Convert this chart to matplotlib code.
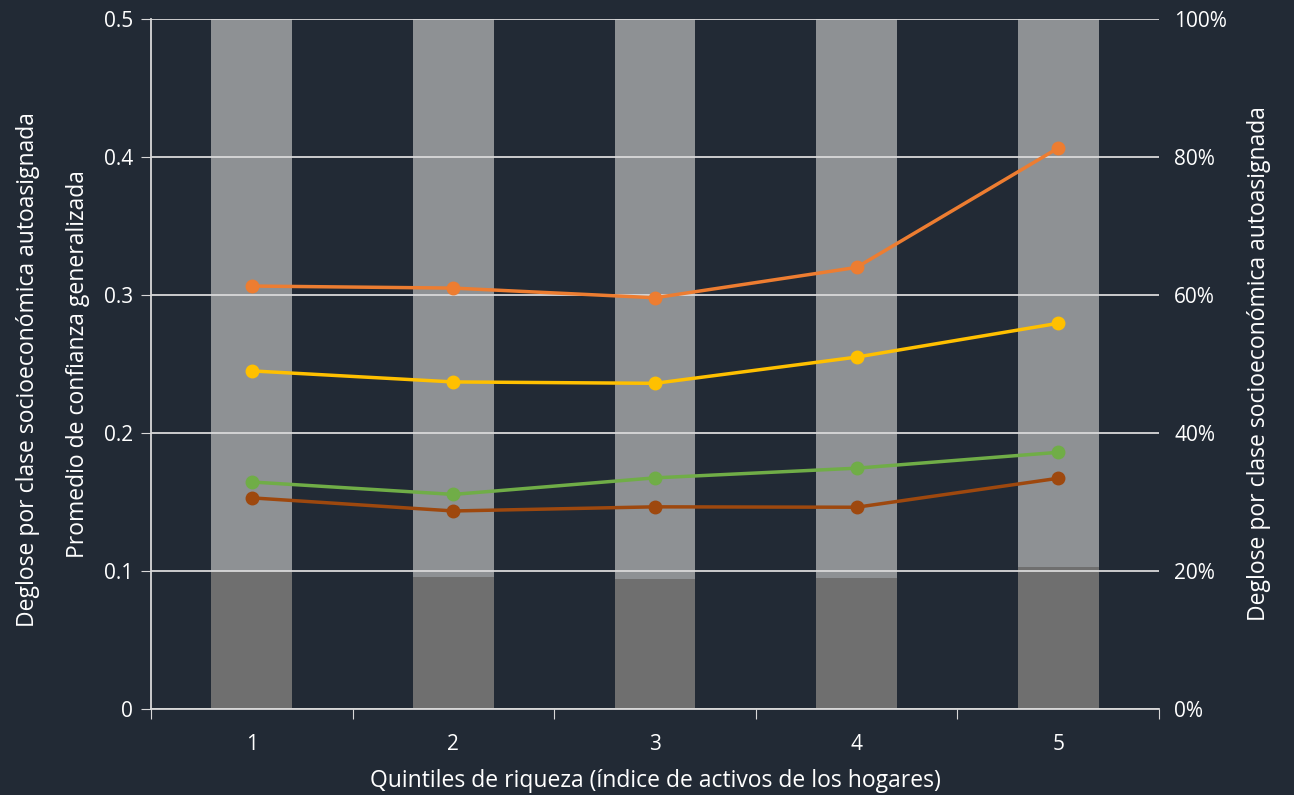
import numpy as np
import matplotlib.pyplot as plt
from matplotlib.ticker import PercentFormatter

plt.rcParams['font.family'] = ['Open Sans', 'DejaVu Sans']

quintiles = [1, 2, 3, 4, 5]

# bar shares (fraction of households), bottom part and the rest up to 100%
share_low = [0.200, 0.192, 0.188, 0.190, 0.206]
share_rest = [1 - v for v in share_low]

# average generalized trust by class
trust_orange = [0.3065, 0.305, 0.298, 0.320, 0.4065]
trust_yellow = [0.245, 0.237, 0.236, 0.255, 0.2795]
trust_green = [0.1645, 0.1555, 0.1675, 0.1745, 0.186]
trust_brown = [0.153, 0.1435, 0.1465, 0.1462, 0.1672]

bg = '#222a35'
fg = '#ffffff'
axis_col = '#d9d9d9'
tick_fs = 15
label_fs = 16.5

fig = plt.figure(figsize=(12.94, 7.95), dpi=100, facecolor=bg)
ax = fig.add_axes([151 / 1294, 1 - 709 / 795, (1159 - 151) / 1294, (709 - 19) / 795])
ax2 = ax.twinx()

# bars live on the right axis, drawn below the lines and grid
ax.set_zorder(ax2.get_zorder() + 1)
ax.patch.set_visible(False)
ax2.set_facecolor(bg)

x = np.arange(len(quintiles))
ax2.bar(x, share_low, width=0.4, color='#6f6f6f', zorder=1)
ax2.bar(x, share_rest, width=0.4, bottom=share_low, color='#8e9194', zorder=1)
ax2.set_ylim(0, 1)
ax2.set_yticks(np.arange(0, 1.01, 0.2))
ax2.yaxis.set_major_formatter(PercentFormatter(1.0, decimals=0))
ax2.tick_params(axis='y', length=0, colors=fg, labelsize=tick_fs, pad=11)
for s in ax2.spines.values():
    s.set_visible(False)
ax2.set_ylabel('Deglose por clase socioeconómica autoasignada', color=fg,
               fontsize=label_fs, labelpad=14)

for vals, col in [(trust_orange, '#ed7d31'), (trust_yellow, '#ffc000'),
                  (trust_green, '#70ad47'), (trust_brown, '#9e480e')]:
    ax.plot(x, vals, color=col, lw=2.5, marker='o', markersize=9, zorder=3)

ax.set_xlim(-0.5, 4.5)
ax.set_ylim(0, 0.5)
ax.set_yticks(np.arange(0, 0.51, 0.1))
ax.set_yticklabels(['0', '0.1', '0.2', '0.3', '0.4', '0.5'])
ax.yaxis.grid(True, color=axis_col, lw=1.3, zorder=2)
ax.set_axisbelow(False)

ax.set_xticks(np.arange(-0.5, 4.6, 1))
ax.set_xticklabels([])
ax.set_xticks(x, minor=True)
ax.set_xticklabels([str(q) for q in quintiles], minor=True)
ax.tick_params(axis='x', which='major', length=7, color=axis_col, direction='out')
ax.tick_params(axis='x', which='minor', length=0, colors=fg, labelsize=tick_fs, pad=18)
ax.tick_params(axis='y', length=7, color=axis_col, colors=fg, labelsize=tick_fs, pad=6)
ax.tick_params(axis='y', which='major', color=axis_col)

for side in ['top', 'right']:
    ax.spines[side].set_visible(False)
for side in ['left', 'bottom']:
    ax.spines[side].set_color(axis_col)
    ax.spines[side].set_linewidth(1.3)

ax.set_xlabel('Quintiles de riqueza (índice de activos de los hogares)', color=fg,
              fontsize=label_fs, labelpad=10)
ax.set_ylabel('Promedio de confianza generalizada', color=fg, fontsize=label_fs,
              labelpad=10)

fig.text(28 / 1294, 1 - 370 / 795, 'Deglose por clase socioeconómica autoasignada',
         rotation=90, color=fg, fontsize=label_fs, ha='center', va='center')

fig.savefig('out.png', dpi=100, facecolor=bg)
